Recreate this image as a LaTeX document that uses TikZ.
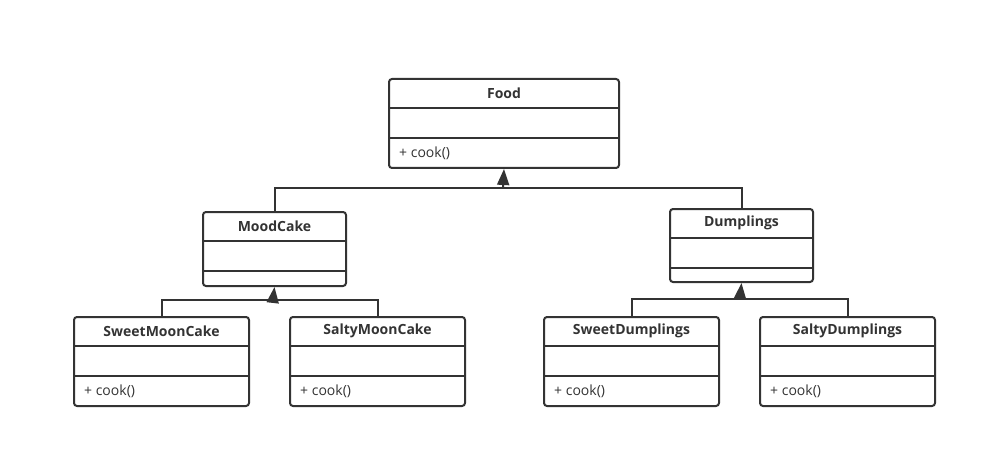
\documentclass[tikz,border=0pt]{standalone}
\usepackage{fontspec}
\setmainfont{Open Sans}
\usetikzlibrary{arrows.meta,calc}
\definecolor{ink}{HTML}{333333}
\tikzset{
  clsbox/.style={draw=ink, line width=2pt, rounded corners=3pt, inner sep=0pt, fill=white},
  clstitle/.style={font=\fontsize{14}{16}\selectfont\bfseries, text=ink, inner sep=0pt},
  clsmeth/.style={font=\fontsize{14}{16}\selectfont, text=ink, inner sep=0pt, anchor=west},
  divider/.style={draw=ink, line width=2pt},
  link/.style={draw=ink, line width=2pt},
  inherit/.style={draw=ink, line width=2pt, -{Triangle[width=12pt,length=16pt]}},
}
\newcommand{\umlclsbase}[6]{%
  \node[clsbox, minimum width=#4pt, minimum height=#5pt, anchor=north west] (#1) at (#2,#3) {};
  \node[clstitle] (#1-t) at ($(#1.north)+(0,15)$) {#6};
  \draw[divider] ($(#1.north west)+(0,30)$) -- ($(#1.north east)+(0,30)$);
  \draw[divider] ($(#1.north west)+(0,60)$) -- ($(#1.north east)+(0,60)$);
}
\newcommand{\umlclsm}[7]{%
  \umlclsbase{#1}{#2}{#3}{#4}{#5}{#6}
  \node[clsmeth] (#1-m) at ($(#1.north west)+(11,75)$) {#7};
}
\begin{document}
\begin{tikzpicture}[x=1pt,y=-1pt]
\useasboundingbox (0,0) rectangle (996,468);
\umlclsm{food}{388}{78}{230}{89}{Food}{+ cook()}
\umlclsbase{mood}{202}{211}{143}{74}{MoodCake}
\umlclsbase{dump}{669}{208}{143}{73}{Dumplings}
\umlclsm{smc}{73}{316}{175}{89}{SweetMoonCake}{+ cook()}
\umlclsm{tmc}{289}{316}{175}{89}{SaltyMoonCake}{+ cook()}
\umlclsm{sdu}{543}{316}{175}{89}{SweetDumplings}{+ cook()}
\umlclsm{tdu}{759}{316}{175}{89}{SaltyDumplings}{+ cook()}
\coordinate (j1) at (503,188);
\coordinate (j2) at (273,300);
\coordinate (j3) at (740,299);
\draw[link] (mood.north) |- (j1) -| (dump.north);
\draw[inherit] (j1) -- (food.south);
\draw[link] (smc.north) |- (j2) -| (tmc.north);
\draw[inherit] (j2) -- (mood.south);
\draw[link] (sdu.north) |- (j3) -| (tdu.north);
\draw[inherit] (j3) -- (dump.south);
\end{tikzpicture}
\end{document}
